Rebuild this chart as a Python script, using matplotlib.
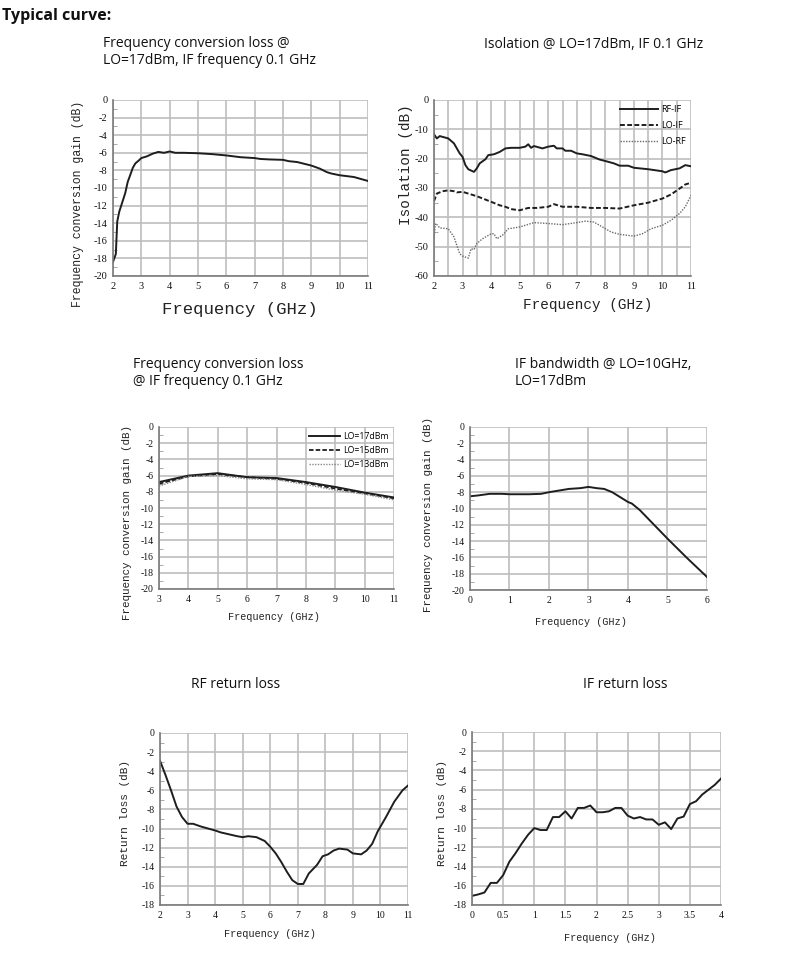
import matplotlib
matplotlib.use("Agg")
import matplotlib.pyplot as plt
from matplotlib.ticker import MultipleLocator, FuncFormatter

W, H = 807, 961

# ---------------- data ----------------
# Plot 1: conversion gain vs frequency, LO=17dBm
p1_x = [2.0, 2.1, 2.15, 2.22, 2.3, 2.43, 2.52, 2.6, 2.7, 2.79, 2.9, 3.0, 3.2, 3.4, 3.6,
        3.8, 4.0, 4.2, 4.5, 5.0, 5.5, 6.0, 6.5, 7.0, 7.2, 7.5, 8.0, 8.2, 8.5, 9.0, 9.3,
        9.55, 9.7, 10.0, 10.5, 11.0]
p1_y = [-18.4, -17.5, -13.8, -12.7, -11.9, -10.6, -9.3, -8.6, -7.7, -7.2, -6.9, -6.6, -6.4,
        -6.1, -5.9, -6.0, -5.85, -6.0, -6.0, -6.05, -6.15, -6.3, -6.5, -6.6, -6.7, -6.75,
        -6.8, -6.95, -7.05, -7.45, -7.8, -8.2, -8.35, -8.55, -8.75, -9.2]

# Plot 2: isolation
p2_x_rfif = [2.0, 2.1, 2.2, 2.5, 2.7, 2.9, 3.0, 3.1, 3.2, 3.4, 3.5, 3.6, 3.8, 3.9, 4.1,
             4.3, 4.5, 4.7, 5.0, 5.2, 5.3, 5.4, 5.5, 5.8, 6.0, 6.2, 6.3, 6.5, 6.6, 6.8,
             7.0, 7.2, 7.5, 7.8, 8.0, 8.3, 8.5, 8.8, 9.0, 9.5, 10.0, 10.1, 10.3, 10.6,
             10.8, 11.0]
p2_rfif = [-11.7, -13.1, -12.3, -13.1, -14.8, -18.2, -19.4, -22.2, -23.6, -24.5, -23.3,
           -21.6, -20.2, -18.8, -18.5, -17.7, -16.5, -16.3, -16.3, -15.9, -15.1, -16.3,
           -15.7, -16.5, -15.9, -15.6, -16.5, -16.5, -17.3, -17.3, -18.2, -18.5, -19.1,
           -20.3, -20.8, -21.6, -22.4, -22.4, -23.1, -23.6, -24.3, -24.7, -23.9, -23.3,
           -22.2, -22.6]
p2_x_loif = [2.0, 2.1, 2.3, 2.5, 2.7, 2.8, 3.0, 3.2, 3.5, 4.0, 4.3, 4.5, 4.7, 5.0, 5.3,
             5.6, 6.0, 6.2, 6.5, 7.0, 7.5, 8.0, 8.5, 9.0, 9.5, 10.0, 10.3, 10.6, 10.8, 11.0]
p2_loif = [-34.5, -31.9, -31.1, -30.8, -31.1, -31.5, -31.3, -31.9, -32.8, -34.7, -35.9,
           -36.4, -37.2, -37.6, -36.8, -36.8, -36.4, -35.5, -36.4, -36.4, -36.8, -36.8,
           -37.0, -35.9, -35.0, -33.6, -32.2, -30.2, -28.8, -28.2]
p2_x_lorf = [2.0, 2.05, 2.1, 2.2, 2.5, 2.7, 2.9, 3.0, 3.2, 3.3, 3.4, 3.5, 3.7, 4.0, 4.1,
             4.2, 4.4, 4.6, 5.0, 5.5, 6.0, 6.5, 7.0, 7.3, 7.6, 7.9, 8.2, 8.5, 9.0, 9.3,
             9.6, 10.0, 10.3, 10.6, 10.8, 11.0]
p2_lorf = [-47.3, -42.1, -42.5, -43.6, -43.9, -46.7, -52.4, -53.2, -53.9, -50.7, -51.0,
           -48.9, -47.3, -45.6, -45.6, -47.3, -46.1, -43.9, -43.3, -41.8, -42.1, -42.5,
           -41.8, -41.3, -41.6, -43.3, -45.0, -45.8, -46.4, -45.6, -43.9, -42.7, -41.0,
           -38.7, -36.4, -32.5]

# Plot 3: conversion gain at three LO levels
p3_x = [3, 4, 5, 6, 7, 8, 9, 10, 11]
p3_lo17 = [-6.8, -6.0, -5.7, -6.2, -6.3, -6.8, -7.4, -8.1, -8.7]
p3_lo15 = [-7.0, -6.1, -5.8, -6.2, -6.4, -6.9, -7.6, -8.2, -8.8]
p3_lo13 = [-7.3, -6.1, -6.0, -6.4, -6.5, -7.1, -7.8, -8.3, -9.0]

# Plot 4: IF bandwidth
p4_x = [0.0, 0.2, 0.5, 0.8, 1.0, 1.5, 1.8, 2.0, 2.5, 2.8, 3.0, 3.2, 3.4, 3.6, 3.8, 4.0,
        4.1, 4.3, 4.5, 5.0, 5.5, 6.0]
p4_y = [-8.5, -8.4, -8.2, -8.2, -8.25, -8.25, -8.2, -8.0, -7.6, -7.5, -7.35, -7.5, -7.6,
        -8.0, -8.6, -9.2, -9.4, -10.2, -11.2, -13.7, -16.1, -18.4]

# Plot 5: RF return loss
p5_x = [2.0, 2.2, 2.4, 2.6, 2.8, 3.0, 3.2, 3.5, 4.0, 4.2, 4.5, 4.8, 5.0, 5.2, 5.5, 5.8,
        6.0, 6.2, 6.4, 6.6, 6.8, 7.0, 7.2, 7.4, 7.7, 7.9, 8.1, 8.3, 8.5, 8.8, 9.0, 9.3,
        9.5, 9.7, 9.9, 10.2, 10.5, 10.8, 11.0]
p5_y = [-2.9, -4.4, -6.0, -7.7, -8.8, -9.5, -9.5, -9.8, -10.2, -10.4, -10.6, -10.8, -10.9,
        -10.8, -10.9, -11.3, -11.9, -12.6, -13.5, -14.5, -15.4, -15.8, -15.8, -14.7, -13.8,
        -12.9, -12.7, -12.3, -12.1, -12.2, -12.6, -12.7, -12.3, -11.6, -10.3, -8.8, -7.2,
        -6.0, -5.5]

# Plot 6: IF return loss
p6_x = [0.0, 0.1, 0.2, 0.3, 0.4, 0.5, 0.6, 0.7, 0.8, 0.9, 1.0, 1.1, 1.2, 1.3, 1.4, 1.5,
        1.6, 1.7, 1.8, 1.9, 2.0, 2.1, 2.2, 2.3, 2.4, 2.5, 2.6, 2.7, 2.8, 2.9, 3.0, 3.1,
        3.2, 3.3, 3.4, 3.5, 3.6, 3.7, 3.8, 3.9, 4.0]
p6_y = [-17.05, -16.9, -16.7, -15.7, -15.7, -14.9, -13.5, -12.6, -11.6, -10.7, -10.0,
        -10.2, -10.2, -8.85, -8.85, -8.25, -9.0, -7.9, -7.9, -7.65, -8.35, -8.35, -8.25,
        -7.9, -7.9, -8.7, -9.0, -8.85, -9.1, -9.1, -9.65, -9.4, -10.1, -9.0, -8.8, -7.5,
        -7.2, -6.5, -6.0, -5.5, -4.85]

# ---------------- styling ----------------
TITLE_FONT = ["Open Sans", "Noto Sans", "DejaVu Sans"]
TICK_FONT = "Liberation Serif"
LABEL_FONT = ["Liberation Mono", "DejaVu Sans Mono"]
GRID_C = "#bdbdbd"
LINE_C = "#1e1e1e"

fig = plt.figure(figsize=(W / 100, H / 100), dpi=100)
fig.patch.set_facecolor("white")


def ax_px(l, t, r, b):
    return fig.add_axes([l / W, 1 - b / H, (r - l) / W, (b - t) / H])


def style(ax, xlim, xmaj, xgrid, ylim, ymaj, tick_fs=7.5):
    ax.set_xlim(*xlim)
    ax.set_ylim(*ylim)
    ax.xaxis.set_major_locator(MultipleLocator(xmaj))
    ax.yaxis.set_major_locator(MultipleLocator(ymaj))
    ax.xaxis.set_minor_locator(MultipleLocator(xgrid))
    ax.yaxis.set_minor_locator(MultipleLocator(ymaj / 2))
    ax.yaxis.set_major_formatter(FuncFormatter(lambda v, p: f"{v:g}"))
    ax.xaxis.set_major_formatter(FuncFormatter(lambda v, p: f"{v:g}"))
    ax.grid(True, which="major", color=GRID_C, lw=1.2)
    if xgrid != xmaj:
        ax.grid(True, which="minor", axis="x", color=GRID_C, lw=1.2)
    ax.set_axisbelow(True)
    for s in ["top", "right"]:
        ax.spines[s].set_visible(False)
    for s in ["left", "bottom"]:
        ax.spines[s].set_color("#7a7a7a")
        ax.spines[s].set_linewidth(1.2)
    ax.tick_params(which="major", length=0, pad=4, labelsize=tick_fs, colors="#111111",
                   labelfontfamily=TICK_FONT)
    ax.tick_params(axis="x", which="minor", length=0)
    ax.tick_params(axis="y", which="minor", direction="in", length=3, color="#9a9a9a")


def xlabel(x, y, text, fs):
    fig.text(x / W, 1 - y / H, text, ha="center", va="center", fontsize=fs,
             family=LABEL_FONT, color="#222222")


def ylabel(x, y, text, fs):
    fig.text(x / W, 1 - y / H, text, ha="center", va="center", fontsize=fs,
             family=LABEL_FONT, color="#222222", rotation=90)


def title(x, y, text, ha="left", fs=10, weight="normal"):
    fig.text(x / W, 1 - y / H, text, ha=ha, va="center", fontsize=fs,
             family=TITLE_FONT, color="#111111", weight=weight, linespacing=1.15)


# Titles
title(2, 16, "Typical curve:", fs=11.5, weight="bold")
title(103, 52, "Frequency conversion loss @\nLO=17dBm, IF frequency 0.1 GHz")
title(484, 45, "Isolation @ LO=17dBm, IF 0.1 GHz")
title(133, 373, "Frequency conversion loss\n@ IF frequency 0.1 GHz")
title(515, 373, "IF bandwidth @ LO=10GHz,\nLO=17dBm")
title(236, 685, "RF return loss", ha="center")
title(625, 685, "IF return loss", ha="center")

# Plot 1
ax1 = ax_px(113, 100, 368, 276)
ax1.plot(p1_x, p1_y, color=LINE_C, lw=1.4)
style(ax1, (2, 11), 1, 1, (-20, 0), 2)
xlabel(240, 310, "Frequency (GHz)", 12.5)
ylabel(78, 204, "Frequency conversion gain (dB)", 8.3)

# Plot 2
ax2 = ax_px(434, 100, 691, 276)
ax2.plot(p2_x_rfif, p2_rfif, color=LINE_C, lw=1.4, label="RF-IF")
ax2.plot(p2_x_loif, p2_loif, color=LINE_C, lw=1.4, ls=(0, (2.5, 1.2)), label="LO-IF")
ax2.plot(p2_x_lorf, p2_lorf, color="#6a6a6a", lw=1.0, ls=(0, (1, 1)), label="LO-RF")
style(ax2, (2, 11), 1, 0.5, (-60, 0), 10)
ax2.legend(loc="upper right", frameon=False, handlelength=4.2,
           handletextpad=0.3, labelspacing=0.75, borderaxespad=0.2,
           prop={"family": TITLE_FONT, "size": 6.5})
xlabel(588, 305, "Frequency (GHz)", 10.4)
ylabel(406, 165, "Isolation (dB)", 10.4)

# Plot 3
ax3 = ax_px(159, 427, 394, 589)
ax3.plot(p3_x, p3_lo17, color=LINE_C, lw=1.4, label="LO=17dBm")
ax3.plot(p3_x, p3_lo15, color=LINE_C, lw=1.3, ls=(0, (2.5, 1.2)), label="LO=15dBm")
ax3.plot(p3_x, p3_lo13, color="#8a8a8a", lw=1.0, ls=(0, (1, 1)), label="LO=13dBm")
style(ax3, (3, 11), 1, 1, (-20, 0), 2, tick_fs=7)
ax3.legend(loc="upper right", frameon=False, handlelength=3.6, handletextpad=0.3,
           labelspacing=0.55, borderaxespad=0.2, prop={"family": TITLE_FONT, "size": 6.3})
xlabel(274, 617, "Frequency (GHz)", 7.3)
ylabel(127, 522, "Frequency conversion gain (dB)", 7.8)

# Plot 4
ax4 = ax_px(470, 427, 707, 590)
ax4.plot(p4_x, p4_y, color=LINE_C, lw=1.4)
style(ax4, (0, 6), 1, 1, (-20, 0), 2, tick_fs=7)
xlabel(581, 622, "Frequency (GHz)", 7.3)
ylabel(428, 515, "Frequency conversion gain (dB)", 7.8)

# Plot 5
ax5 = ax_px(160, 733, 408, 905)
ax5.plot(p5_x, p5_y, color=LINE_C, lw=1.4)
style(ax5, (2, 11), 1, 1, (-18, 0), 2, tick_fs=7)
xlabel(270, 934, "Frequency (GHz)", 7.3)
ylabel(125, 813, "Return loss (dB)", 8)

# Plot 6
ax6 = ax_px(472, 732, 721, 905)
ax6.plot(p6_x, p6_y, color=LINE_C, lw=1.4)
style(ax6, (0, 4), 0.5, 0.5, (-18, 0), 2, tick_fs=7)
xlabel(610, 938, "Frequency (GHz)", 7.3)
ylabel(442, 813, "Return loss (dB)", 8)

fig.savefig("out.png", dpi=100, facecolor="white")
